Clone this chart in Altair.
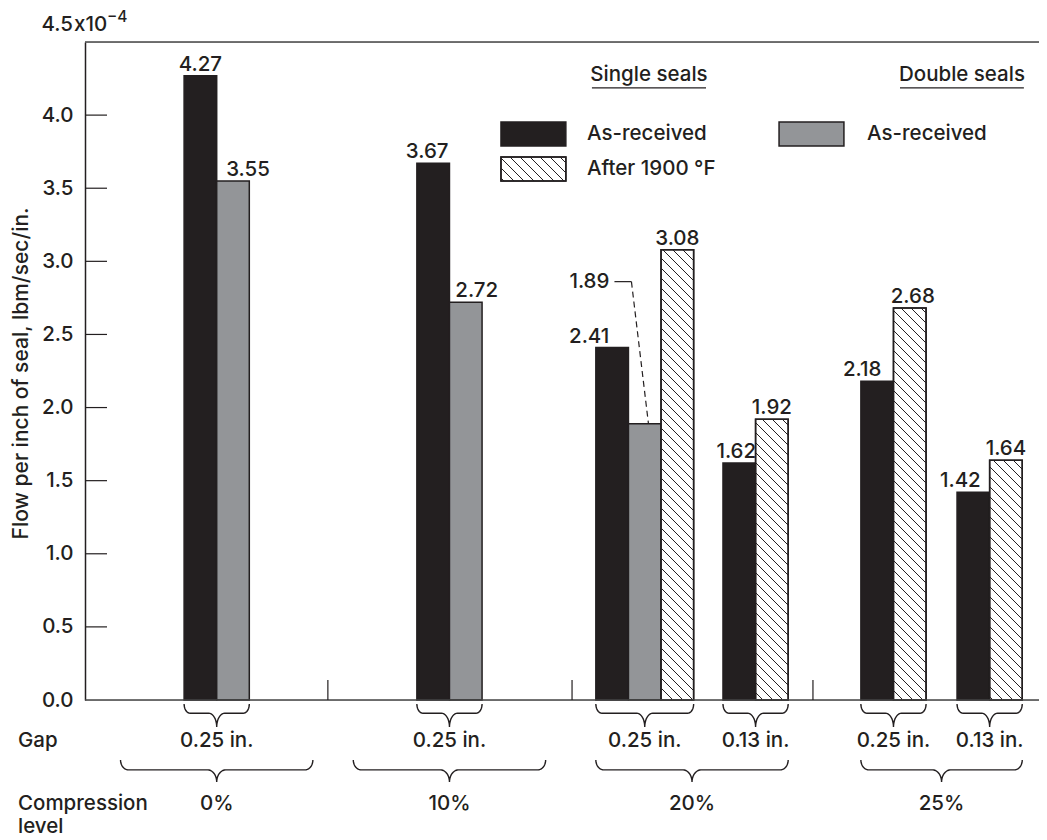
import math
import altair as alt
import pandas as pd

# ---------------- data ----------------
compression_levels = ["0%", "10%", "20%", "25%"]
sub_compression = ["0%", "10%", "20%", "20%", "25%", "25%"]
sub_gap = ["0.25 in.", "0.25 in.", "0.25 in.", "0.13 in.", "0.25 in.", "0.13 in."]
single_as_received = [4.27, 3.67, 2.41, 1.62, 2.18, 1.42]
double_as_received = [3.55, 2.72, 1.89, None, None, None]
single_after_1900 = [None, None, 3.08, 1.92, 2.68, 1.64]
y_ticks = [0.0, 0.5, 1.0, 1.5, 2.0, 2.5, 3.0, 3.5, 4.0]
y_title = "Flow per inch of seal, lbm/sec/in."
y_top_label = ["4.5", "x10", "\u22124"]

# ---------------- layout / style ----------------
W, H = 954, 658
UNIT = 32.6                 # px per bar width
YMAX = 4.5
PXY = H / YMAX
XMAX = W / UNIT
SUB_START = [3.04, 10.18, 15.67, 19.57, 23.80, 26.75]   # subgroup start, in bar widths
SEPARATORS = [7.45, 14.94, 22.33]
BIG_HALF = 2.95            # half width of compression brace for single-gap groups
LABEL_SHIFT = {(0, 1): 15, (1, 0): -6, (1, 1): 11, (2, 0): -23, (3, 0): -3,
               (4, 0): -15, (4, 2): 3, (5, 0): -13}
FONT = "Inter"
FW = 500
FS = 20.5
INK = "#231f20"
GRAY = "#939598"
FILLS = [INK, GRAY, "white"]


def ux(px):
    return px / UNIT


def uy(px):
    return px / PXY


XS = alt.Scale(domain=[0, XMAX], nice=False, zero=False)
YS = alt.Scale(domain=[0, YMAX], nice=False, zero=False)
Y_AXIS = alt.Axis(values=y_ticks, format=".1f", ticks=False, grid=False,
                  domainColor=INK, domainWidth=1.5,
                  labelFont=FONT, labelFontSize=FS, labelFontWeight=FW, labelColor=INK,
                  labelPadding=12,
                  title=y_title, titleFont=FONT, titleFontSize=21, titleFontWeight=FW,
                  titleColor=INK, titleX=-58, titleY=H / 2 + 2, titleAngle=270,
                  titleAlign="center", titleBaseline="alphabetic")


def X(f="x"):
    return alt.X(f + ":Q", scale=XS, axis=None)


def Y(f="y"):
    return alt.Y(f + ":Q", scale=YS, axis=Y_AXIS)


# ---------------- bars ----------------
series_vals = [single_as_received, double_as_received, single_after_1900]
bars, labels = [], []
for i in range(len(sub_gap)):
    k = 0
    for s in range(3):
        v = series_vals[s][i]
        if v is None:
            continue
        x0 = SUB_START[i] + k
        bars.append(dict(x=x0, x2=x0 + 1, y=0.0, y2=v, fill=FILLS[s], series=s, sub=i))
        if not (i == 2 and s == 1):
            labels.append(dict(x=x0 + 0.5 + ux(LABEL_SHIFT.get((i, s), 0)),
                               y=v + uy(5), text=f"{v:.2f}"))
        k += 1
bars_df = pd.DataFrame(bars)


def hatch(xl, xr, yb, yt, step=10.0):
    # 45 deg "\" lines clipped to rectangle, returned in data units
    Xl, Xr = xl * UNIT, xr * UNIT
    Yt, Yb = (YMAX - yt) * PXY, (YMAX - yb) * PXY
    segs = []
    kk = math.floor((Yt - Xr) / step) * step
    while kk <= Yb - Xl:
        xs_ = max(Xl, Yt - kk)
        xe_ = min(Xr, Yb - kk)
        if xe_ - xs_ > 0.5:
            segs.append(dict(x=xs_ / UNIT, y=YMAX - (xs_ + kk) / PXY,
                             x2=xe_ / UNIT, y2=YMAX - (xe_ + kk) / PXY))
        kk += step
    return segs


hatch_segs = []
for b in bars:
    if b["series"] == 2:
        hatch_segs += hatch(b["x"], b["x2"], b["y"], b["y2"])

# ---------------- legend ----------------
legend_rects = [
    dict(x=12.76, x2=14.75, y=3.789, y2=3.953, fill=INK),
    dict(x=12.76, x2=14.75, y=3.549, y2=3.714, fill="white"),
    dict(x=21.29, x2=23.28, y=3.789, y2=3.953, fill=GRAY),
]
hatch_segs += hatch(12.76, 14.75, 3.549, 3.714)
legend_text = [
    dict(x=15.40, y=3.871, text="As-received"),
    dict(x=15.40, y=3.632, text="After 1900 °F"),
    dict(x=23.99, y=3.871, text="As-received"),
]
headers = [dict(x=17.30, y=4.233, text="Single seals"),
           dict(x=26.90, y=4.233, text="Double seals")]
underlines = [dict(x=15.55, x2=19.05, y=4.186, y2=4.186),
              dict(x=25.00, x2=28.80, y=4.186, y2=4.186)]

# ---------------- braces ----------------


def brace(bid, x0, x1, ytop, h_px, r_end=6.0, r_mid=8.0, frac=0.4):
    X0, X1 = x0 * UNIT, x1 * UNIT
    C = (X0 + X1) / 2
    hh = h_px * frac
    pts = []
    n = 10
    for j in range(n + 1):
        t = j / n * math.pi / 2
        pts.append((X0 + r_end * (1 - math.cos(t)), hh * math.sin(t)))
    for j in range(n + 1):
        t = j / n * math.pi / 2
        pts.append((C - r_mid + r_mid * math.sin(t), hh + (h_px - hh) * (1 - math.cos(t))))
    for j in range(n + 1):
        t = j / n * math.pi / 2
        pts.append((C + r_mid * (1 - math.cos(t)), h_px - (h_px - hh) * math.sin(t)))
    for j in range(n + 1):
        t = j / n * math.pi / 2
        pts.append((X1 - r_end + r_end * math.sin(t), hh * math.cos(t)))
    return [dict(bid=bid, order=o, x=px / UNIT, y=ytop - py / PXY) for o, (px, py) in enumerate(pts)]


brace_pts = []
gap_labels = []
SMALL_TOP = -uy(4)
BIG_TOP = -uy(60)
for i in range(len(sub_gap)):
    nb = sum(1 for s in range(3) if series_vals[s][i] is not None)
    x0, x1 = SUB_START[i], SUB_START[i] + nb
    brace_pts += brace(f"s{i}", x0, x1, SMALL_TOP, 23)
    gap_labels.append(dict(x=(x0 + x1) / 2, y=-uy(47), text=sub_gap[i]))

comp_labels = []
for c in compression_levels:
    idx = [i for i, cc in enumerate(sub_compression) if cc == c]
    first, last = idx[0], idx[-1]
    nb_last = sum(1 for s in range(3) if series_vals[s][last] is not None)
    if len(idx) == 1:
        mid = SUB_START[first] + nb_last / 2
        x0, x1 = mid - BIG_HALF, mid + BIG_HALF
    else:
        x0, x1 = SUB_START[first], SUB_START[last] + nb_last
    brace_pts += brace(f"c{c}", x0, x1, BIG_TOP, 22, r_end=8, r_mid=9, frac=0.45)
    comp_labels.append(dict(x=(x0 + x1) / 2, y=-uy(110), text=c))

row_labels = [dict(x=ux(18 - 85), y=-uy(47), text="Gap"),
              dict(x=ux(18 - 85), y=-uy(110), text="Compression"),
              dict(x=ux(18 - 85), y=-uy(133), text="level"),
              dict(x=ux(74 - 85), y=YMAX + uy(11), text=y_top_label[1])]
top_right = [dict(x=ux(73 - 85), y=YMAX + uy(11), text=y_top_label[0])]
sup_label = [dict(x=ux(107 - 85), y=YMAX + uy(20), text=y_top_label[2])]

# ---------------- 1.89 leader ----------------
gray_left = SUB_START[2] + 1
v189 = double_as_received[2]
ylead = v189 + uy(142)
lead_text = [dict(x=gray_left - ux(19), y=ylead, text=f"{v189:.2f}")]
lead_solid = [dict(x=gray_left - ux(14), x2=gray_left + ux(3), y=ylead, y2=ylead)]
lead_dash = [dict(x=gray_left + ux(3), x2=gray_left + ux(20), y=ylead, y2=v189)]

# ---------------- frame bits ----------------
frame_rules = pd.DataFrame({"y": [YMAX, 0.0]})
inner_ticks = pd.DataFrame([dict(x=0, x2=ux(22), y=t, y2=t) for t in y_ticks if t > 0])
sep_df = pd.DataFrame([dict(x=s, x2=s, y=0.0, y2=uy(20)) for s in SEPARATORS])

# ---------------- layers ----------------


def rects(df, **kw):
    return alt.Chart(df).mark_rect(stroke=INK, strokeWidth=1.5, **kw).encode(
        x=X(), x2="x2:Q", y=Y(), y2="y2:Q", fill=alt.Fill("fill:N", scale=None))


def rules(df, **kw):
    return alt.Chart(df).mark_rule(color=INK, **kw).encode(
        x=X(), x2="x2:Q", y=Y(), y2="y2:Q")


def text_layer(rows, align, baseline, size=FS):
    return alt.Chart(pd.DataFrame(rows)).mark_text(
        align=align, baseline=baseline, font=FONT, fontSize=size, fontWeight=FW,
        color=INK).encode(x=X(), y=Y(), text="text:N")


bar_layer = rects(bars_df)
legend_rect_layer = rects(pd.DataFrame(legend_rects))
hatch_layer = rules(pd.DataFrame(hatch_segs), strokeWidth=1)
outline_df = pd.DataFrame([b for b in bars if b["series"] == 2] + [legend_rects[1]])
outline_layer = alt.Chart(outline_df).mark_rect(fill=None, fillOpacity=0, stroke=INK, strokeWidth=1.5).encode(
    x=X(), x2="x2:Q", y=Y(), y2="y2:Q")

center_texts = text_layer(labels + gap_labels + comp_labels + headers, "center", "alphabetic")
left_texts = text_layer(row_labels, "left", "alphabetic")
right_texts = text_layer(top_right, "right", "alphabetic")
sup_text = text_layer(sup_label, "left", "alphabetic", size=15.5)
legend_texts = text_layer(legend_text, "left", "middle")
lead_label = text_layer(lead_text, "right", "middle")

underline_layer = rules(pd.DataFrame(underlines), strokeWidth=1.3)
lead_solid_layer = rules(pd.DataFrame(lead_solid), strokeWidth=1.2)
lead_dash_layer = rules(pd.DataFrame(lead_dash), strokeWidth=1.2, strokeDash=[6, 4])
tick_layer = rules(inner_ticks, strokeWidth=1.2)
sep_layer = rules(sep_df, strokeWidth=1.2)
frame_layer = alt.Chart(frame_rules).mark_rule(color="#444", strokeWidth=1.5).encode(y=Y())

brace_layer = alt.Chart(pd.DataFrame(brace_pts)).mark_line(
    color=INK, strokeWidth=1.4, interpolate="linear").encode(
    x=X(), y=Y(), detail="bid:N", order="order:Q")

chart = alt.layer(
    bar_layer, legend_rect_layer, hatch_layer, outline_layer, frame_layer, tick_layer, sep_layer,
    brace_layer, underline_layer, lead_solid_layer, lead_dash_layer,
    center_texts, left_texts, right_texts, sup_text, legend_texts, lead_label,
).properties(
    width=W, height=H,
    padding={"left": 77, "top": 34, "right": 0, "bottom": 140},
    autosize=alt.AutoSizeParams(type="none"),
).configure_view(stroke=None).configure(background="white")

chart.save("out.html", embed_options={"renderer": "svg", "actions": False})
